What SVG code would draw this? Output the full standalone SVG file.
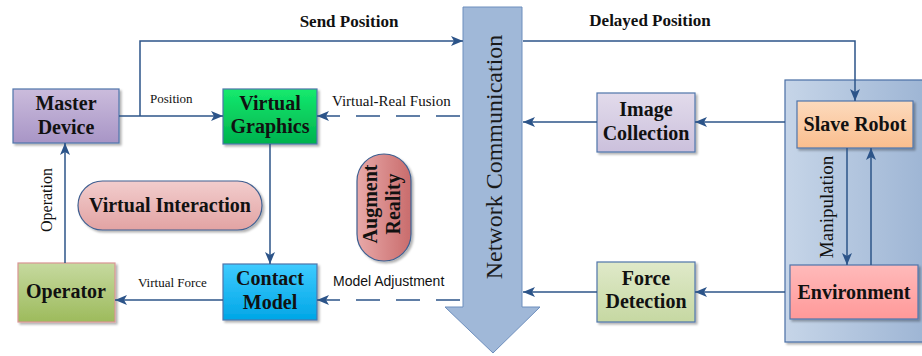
<svg xmlns="http://www.w3.org/2000/svg" width="922" height="356" viewBox="0 0 922 356">
  <style>
    .box { stroke: #4f75ab; stroke-width: 1.2; filter: url(#shadow); }
    .lbl { font-family: "Liberation Serif", "Times New Roman", serif; font-weight: bold; font-size: 20px; fill: #111; text-anchor: middle; }
    .head { font-family: "Liberation Serif", "Times New Roman", serif; font-weight: bold; font-size: 17px; fill: #111; text-anchor: middle; }
    .note { font-family: "Liberation Serif", "Times New Roman", serif; font-size: 13px; fill: #111; }
    .wire { fill: none; stroke: #2c5489; stroke-width: 1.5; marker-end: url(#tip); }
    .dash { stroke-dasharray: 24 16; }
  </style>
  <defs>
    <filter id="shadow" x="-10%" y="-10%" width="130%" height="130%">
      <feDropShadow dx="2" dy="2" stdDeviation="1" flood-color="#000" flood-opacity="0.3"/>
    </filter>
    <marker id="tip" markerUnits="userSpaceOnUse" viewBox="0 0 12 10" refX="12" refY="5" markerWidth="12" markerHeight="10" orient="auto">
      <path d="M0,0 L12,5 L0,10 L3,5 Z" fill="#2c5489"/>
    </marker>
    <linearGradient id="gMaster" x1="0" y1="0" x2="0" y2="1"><stop offset="0" stop-color="#cbbcdc"/><stop offset="1" stop-color="#a895c6"/></linearGradient>
    <linearGradient id="gVirt" x1="0" y1="0" x2="0" y2="1"><stop offset="0" stop-color="#14ea6e"/><stop offset="1" stop-color="#00b24e"/></linearGradient>
    <linearGradient id="gContact" x1="0" y1="0" x2="0" y2="1"><stop offset="0" stop-color="#3fcbff"/><stop offset="1" stop-color="#00a6e6"/></linearGradient>
    <linearGradient id="gOper" x1="0" y1="0" x2="0" y2="1"><stop offset="0" stop-color="#c6d99f"/><stop offset="1" stop-color="#9dbb5c"/></linearGradient>
    <linearGradient id="gImage" x1="0" y1="0" x2="0" y2="1"><stop offset="0" stop-color="#e2dbeb"/><stop offset="1" stop-color="#cbc0dc"/></linearGradient>
    <linearGradient id="gForce" x1="0" y1="0" x2="0" y2="1"><stop offset="0" stop-color="#dfe9c9"/><stop offset="1" stop-color="#c6d8a2"/></linearGradient>
    <linearGradient id="gSlave" x1="0" y1="0" x2="0" y2="1"><stop offset="0" stop-color="#fcdabd"/><stop offset="1" stop-color="#fabe8e"/></linearGradient>
    <linearGradient id="gEnv" x1="0" y1="0" x2="0" y2="1"><stop offset="0" stop-color="#ffbaba"/><stop offset="1" stop-color="#ff9999"/></linearGradient>
    <linearGradient id="gPanel" x1="0" y1="0" x2="1" y2="0"><stop offset="0" stop-color="#c6d5e8"/><stop offset="1" stop-color="#9bb3d3"/></linearGradient>
    <linearGradient id="gVI" x1="0" y1="0" x2="0" y2="1"><stop offset="0" stop-color="#f2cdcd"/><stop offset="1" stop-color="#e2a3a3"/></linearGradient>
    <linearGradient id="gAR" x1="0" y1="0" x2="1" y2="0"><stop offset="0" stop-color="#e8a9a9"/><stop offset="1" stop-color="#c96c6c"/></linearGradient>
  </defs>

  <!-- slave side panel -->
  <g id="slave-side">
    <rect x="785" y="80" width="150" height="262" fill="url(#gPanel)" stroke="#4a6fa5" stroke-width="1.2" filter="url(#shadow)"/>
  </g>

  <!-- network channel: big downward arrow -->
  <g id="network">
    <path d="M463,7 L522,7 L522,307 L540,307 L493,353 L445,307 L463,307 Z" fill="#a0b8d8" stroke="#6d8ebd" stroke-width="1"/>
    <text transform="translate(502,157) rotate(-90)" style="font-family:'Liberation Serif','Times New Roman',serif;font-size:24px" fill="#1a1a1a" text-anchor="middle">Network Communication</text>
  </g>

  <g id="master">
    <rect class="box" x="13" y="89" width="106" height="54" fill="url(#gMaster)"/>
    <text class="lbl" x="66" y="110">Master</text>
    <text class="lbl" x="66" y="134">Device</text>
  </g>

  <g id="virtual-graphics">
    <rect class="box" x="223" y="89" width="94" height="55" fill="url(#gVirt)"/>
    <text class="lbl" x="270" y="110">Virtual</text>
    <text class="lbl" x="270" y="133">Graphics</text>
  </g>

  <g id="contact-model">
    <rect class="box" x="223" y="264" width="94" height="56" fill="url(#gContact)"/>
    <text class="lbl" x="270" y="285">Contact</text>
    <text class="lbl" x="270" y="309">Model</text>
  </g>

  <g id="operator">
    <rect class="box" x="18" y="263" width="97" height="59" fill="url(#gOper)" style="stroke:#d99594"/>
    <text class="lbl" x="66" y="298">Operator</text>
  </g>

  <g id="virtual-interaction">
    <rect x="78" y="181" width="184" height="49" rx="24.5" fill="url(#gVI)" stroke="#3f5f90" stroke-width="1.2" filter="url(#shadow)"/>
    <text class="lbl" x="170" y="212">Virtual Interaction</text>
  </g>

  <g id="augment-reality">
    <rect x="357" y="154" width="54" height="107" rx="27" fill="url(#gAR)" stroke="#3f5f90" stroke-width="1.2" filter="url(#shadow)"/>
    <text class="lbl" transform="translate(377,204) rotate(-90)">Augment</text>
    <text class="lbl" transform="translate(400,204) rotate(-90)">Reality</text>
  </g>

  <g id="image-collection">
    <rect class="box" x="597" y="93" width="98" height="59" fill="url(#gImage)"/>
    <text class="lbl" x="646" y="116">Image</text>
    <text class="lbl" x="646" y="140">Collection</text>
  </g>

  <g id="force-detection">
    <rect class="box" x="597" y="262" width="98" height="60" fill="url(#gForce)"/>
    <text class="lbl" x="646" y="285">Force</text>
    <text class="lbl" x="646" y="308">Detection</text>
  </g>

  <g id="slave-robot">
    <rect class="box" x="797" y="101" width="116" height="47" fill="url(#gSlave)"/>
    <text class="lbl" x="855" y="131">Slave Robot</text>
  </g>

  <g id="environment">
    <rect class="box" x="790" y="265" width="128" height="54" fill="url(#gEnv)"/>
    <text class="lbl" x="854" y="299">Environment</text>
  </g>

  <!-- connectors -->
  <g id="connectors">
    <path class="wire" d="M119,116 H223"/>
    <path class="wire" d="M140,116 V41 H463"/>
    <path class="wire" d="M523,41 H855 V101"/>
    <path class="wire" d="M785,122 H695"/>
    <path class="wire" d="M597,122 H523"/>
    <path class="wire" d="M785,292 H695"/>
    <path class="wire" d="M597,292 H523"/>
    <path class="wire" d="M847,148 V265"/>
    <path class="wire" d="M871,265 V148"/>
    <path class="wire" d="M270,144 V264"/>
    <path class="wire" d="M223,300 H115"/>
    <path class="wire" d="M65,263 V143"/>
    <path class="wire dash" d="M460,116 H317"/>
    <path class="wire dash" d="M460,300 H317"/>

    <text class="head" x="349" y="27">Send Position</text>
    <text class="head" x="650" y="26">Delayed Position</text>
    <text class="note" x="150" y="103">Position</text>
    <text class="note" x="332" y="106" style="font-size:15px">Virtual-Real Fusion</text>
    <text class="note" x="138" y="287">Virtual Force</text>
    <text x="333" y="286" style="font-family:'Liberation Sans',Arial,sans-serif;font-size:14px" fill="#111">Model Adjustment</text>
    <text class="note" transform="translate(52,200) rotate(-90)" style="font-size:16px" text-anchor="middle">Operation</text>
    <text class="note" transform="translate(833,207) rotate(-90)" style="font-size:19px" text-anchor="middle">Manipulation</text>
  </g>
</svg>
